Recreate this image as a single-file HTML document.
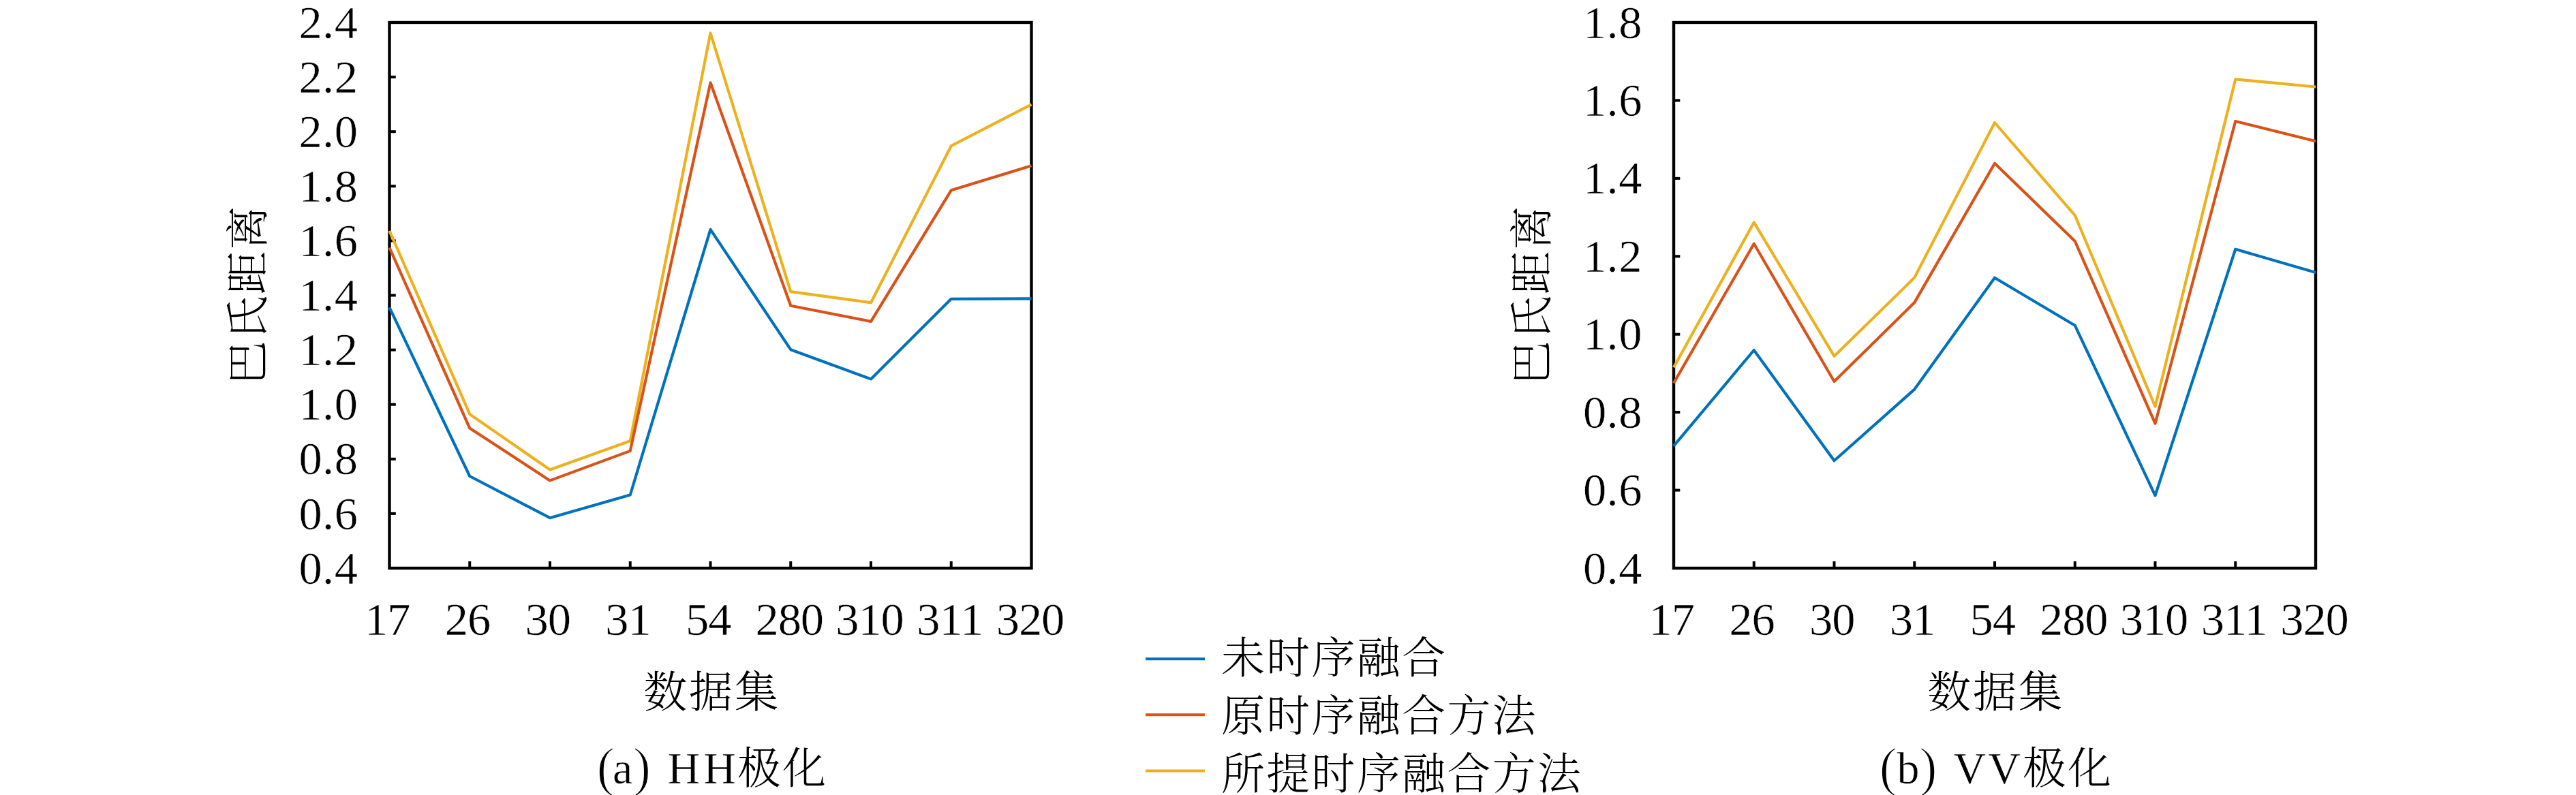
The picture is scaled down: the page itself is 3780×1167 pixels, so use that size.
<!DOCTYPE html>
<html lang="zh-CN">
<head>
<meta charset="utf-8">
<title>巴氏距离 - HH极化 / VV极化</title>
<style>
html,body{margin:0;padding:0;background:#fff;}
body{width:3780px;height:1167px;overflow:hidden;}
svg{display:block;}
text{font-family:"Liberation Serif", "Noto Serif CJK SC", serif;font-size:66px;fill:#000;stroke:#fff;stroke-width:0.5px;}
text.cjk,tspan.cjk{font-family:"Liberation Serif", "Noto Serif CJK SC", serif;font-size:64px;font-weight:300;letter-spacing:2px;stroke:none;}
text.ynum{font-size:68.5px;letter-spacing:0.4px;}
text.xnum{font-size:68.5px;letter-spacing:-1.1px;}
text.leg{letter-spacing:2.3px;}
text.xl{letter-spacing:2.8px;}
tspan.par{font-size:80px;stroke-width:1.7px;}
</style>
</head>
<body>
<svg width="3780" height="1167" viewBox="0 0 3780 1167">
<rect x="0" y="0" width="3780" height="1167" fill="#fff"/>
<g id="chart-a">
<rect x="571.5" y="33" width="942.0" height="801" fill="none" stroke="#000" stroke-width="4.4"/>
<line x1="689.25" y1="834" x2="689.25" y2="824" stroke="#000" stroke-width="4"/>
<line x1="807.00" y1="834" x2="807.00" y2="824" stroke="#000" stroke-width="4"/>
<line x1="924.75" y1="834" x2="924.75" y2="824" stroke="#000" stroke-width="4"/>
<line x1="1042.50" y1="834" x2="1042.50" y2="824" stroke="#000" stroke-width="4"/>
<line x1="1160.25" y1="834" x2="1160.25" y2="824" stroke="#000" stroke-width="4"/>
<line x1="1278.00" y1="834" x2="1278.00" y2="824" stroke="#000" stroke-width="4"/>
<line x1="1395.75" y1="834" x2="1395.75" y2="824" stroke="#000" stroke-width="4"/>
<line x1="571.5" y1="753.90" x2="580.8" y2="753.90" stroke="#000" stroke-width="4"/>
<line x1="571.5" y1="673.80" x2="580.8" y2="673.80" stroke="#000" stroke-width="4"/>
<line x1="571.5" y1="593.70" x2="580.8" y2="593.70" stroke="#000" stroke-width="4"/>
<line x1="571.5" y1="513.60" x2="580.8" y2="513.60" stroke="#000" stroke-width="4"/>
<line x1="571.5" y1="433.50" x2="580.8" y2="433.50" stroke="#000" stroke-width="4"/>
<line x1="571.5" y1="353.40" x2="580.8" y2="353.40" stroke="#000" stroke-width="4"/>
<line x1="571.5" y1="273.30" x2="580.8" y2="273.30" stroke="#000" stroke-width="4"/>
<line x1="571.5" y1="193.20" x2="580.8" y2="193.20" stroke="#000" stroke-width="4"/>
<line x1="571.5" y1="113.10" x2="580.8" y2="113.10" stroke="#000" stroke-width="4"/>
<polyline points="571.50,338.80 689.25,607.90 807.00,689.60 924.75,647.30 1042.50,48.50 1160.25,428.20 1278.00,444.30 1395.75,214.20 1513.50,153.30" fill="none" stroke="#EDB120" stroke-width="4.2" stroke-linejoin="round" stroke-linecap="butt"/>
<polyline points="571.50,363.50 689.25,628.60 807.00,705.40 924.75,661.90 1042.50,121.40 1160.25,448.80 1278.00,471.90 1395.75,279.30 1513.50,243.30" fill="none" stroke="#D95319" stroke-width="4.2" stroke-linejoin="round" stroke-linecap="butt"/>
<polyline points="571.50,451.30 689.25,699.00 807.00,760.20 924.75,726.50 1042.50,336.80 1160.25,513.20 1278.00,556.40 1395.75,438.80 1513.50,438.40" fill="none" stroke="#0072BD" stroke-width="4.2" stroke-linejoin="round" stroke-linecap="butt"/>
<text x="525.3" y="856.60" text-anchor="end" class="ynum">0.4</text>
<text x="525.3" y="776.50" text-anchor="end" class="ynum">0.6</text>
<text x="525.3" y="696.40" text-anchor="end" class="ynum">0.8</text>
<text x="525.3" y="616.30" text-anchor="end" class="ynum">1.0</text>
<text x="525.3" y="536.20" text-anchor="end" class="ynum">1.2</text>
<text x="525.3" y="456.10" text-anchor="end" class="ynum">1.4</text>
<text x="525.3" y="376.00" text-anchor="end" class="ynum">1.6</text>
<text x="525.3" y="295.90" text-anchor="end" class="ynum">1.8</text>
<text x="525.3" y="215.80" text-anchor="end" class="ynum">2.0</text>
<text x="525.3" y="135.70" text-anchor="end" class="ynum">2.2</text>
<text x="525.3" y="55.60" text-anchor="end" class="ynum">2.4</text>
<text x="568.20" y="932" text-anchor="middle" class="xnum">17</text>
<text x="685.95" y="932" text-anchor="middle" class="xnum">26</text>
<text x="803.70" y="932" text-anchor="middle" class="xnum">30</text>
<text x="921.45" y="932" text-anchor="middle" class="xnum">31</text>
<text x="1039.20" y="932" text-anchor="middle" class="xnum">54</text>
<text x="1158.25" y="932" text-anchor="middle" class="xnum">280</text>
<text x="1276.00" y="932" text-anchor="middle" class="xnum">310</text>
<text x="1393.75" y="932" text-anchor="middle" class="xnum">311</text>
<text x="1511.50" y="932" text-anchor="middle" class="xnum">320</text>
<text x="1044.5" y="1038" text-anchor="middle" class="cjk xl">数据集</text>
<text transform="translate(385.8,432.5) rotate(-90)" text-anchor="middle" class="cjk">巴氏距离</text>
<text y="1149.5"><tspan class="par" x="875.5" y="1153">(</tspan><tspan x="899" y="1149.5">a</tspan><tspan class="par" x="928.5" y="1153">) </tspan><tspan x="979.5" y="1149.5" style="letter-spacing:5px">HH</tspan><tspan class="cjk" x="1082" y="1150">极化</tspan></text>
</g>
<g id="legend">
<line x1="1681" y1="967.2" x2="1768" y2="967.2" stroke="#0072BD" stroke-width="4"/>
<text x="1792" y="987.7" class="cjk leg">未时序融合</text>
<line x1="1681" y1="1049.3" x2="1768" y2="1049.3" stroke="#D95319" stroke-width="4"/>
<text x="1792" y="1072.5" class="cjk leg">原时序融合方法</text>
<line x1="1681" y1="1131.4" x2="1768" y2="1131.4" stroke="#EDB120" stroke-width="4"/>
<text x="1792" y="1157.5" class="cjk leg">所提时序融合方法</text>
</g>
<g id="chart-b">
<rect x="2456" y="33" width="942" height="801" fill="none" stroke="#000" stroke-width="4.4"/>
<line x1="2573.75" y1="834" x2="2573.75" y2="824" stroke="#000" stroke-width="4"/>
<line x1="2691.50" y1="834" x2="2691.50" y2="824" stroke="#000" stroke-width="4"/>
<line x1="2809.25" y1="834" x2="2809.25" y2="824" stroke="#000" stroke-width="4"/>
<line x1="2927.00" y1="834" x2="2927.00" y2="824" stroke="#000" stroke-width="4"/>
<line x1="3044.75" y1="834" x2="3044.75" y2="824" stroke="#000" stroke-width="4"/>
<line x1="3162.50" y1="834" x2="3162.50" y2="824" stroke="#000" stroke-width="4"/>
<line x1="3280.25" y1="834" x2="3280.25" y2="824" stroke="#000" stroke-width="4"/>
<line x1="2456" y1="719.57" x2="2465.3" y2="719.57" stroke="#000" stroke-width="4"/>
<line x1="2456" y1="605.14" x2="2465.3" y2="605.14" stroke="#000" stroke-width="4"/>
<line x1="2456" y1="490.71" x2="2465.3" y2="490.71" stroke="#000" stroke-width="4"/>
<line x1="2456" y1="376.29" x2="2465.3" y2="376.29" stroke="#000" stroke-width="4"/>
<line x1="2456" y1="261.86" x2="2465.3" y2="261.86" stroke="#000" stroke-width="4"/>
<line x1="2456" y1="147.43" x2="2465.3" y2="147.43" stroke="#000" stroke-width="4"/>
<polyline points="2456.00,539.30 2573.75,326.40 2691.50,522.80 2809.25,407.60 2927.00,180.00 3044.75,316.20 3162.50,596.70 3280.25,116.40 3398.00,127.50" fill="none" stroke="#EDB120" stroke-width="4.2" stroke-linejoin="round" stroke-linecap="butt"/>
<polyline points="2456.00,562.20 2573.75,357.80 2691.50,560.00 2809.25,444.10 2927.00,239.80 3044.75,354.00 3162.50,621.70 3280.25,178.00 3398.00,207.20" fill="none" stroke="#D95319" stroke-width="4.2" stroke-linejoin="round" stroke-linecap="butt"/>
<polyline points="2456.00,654.70 2573.75,514.00 2691.50,676.20 2809.25,571.60 2927.00,407.80 3044.75,477.70 3162.50,727.30 3280.25,365.80 3398.00,400.10" fill="none" stroke="#0072BD" stroke-width="4.2" stroke-linejoin="round" stroke-linecap="butt"/>
<text x="2409.8" y="856.60" text-anchor="end" class="ynum">0.4</text>
<text x="2409.8" y="742.17" text-anchor="end" class="ynum">0.6</text>
<text x="2409.8" y="627.74" text-anchor="end" class="ynum">0.8</text>
<text x="2409.8" y="513.31" text-anchor="end" class="ynum">1.0</text>
<text x="2409.8" y="398.89" text-anchor="end" class="ynum">1.2</text>
<text x="2409.8" y="284.46" text-anchor="end" class="ynum">1.4</text>
<text x="2409.8" y="170.03" text-anchor="end" class="ynum">1.6</text>
<text x="2409.8" y="55.60" text-anchor="end" class="ynum">1.8</text>
<text x="2452.70" y="932" text-anchor="middle" class="xnum">17</text>
<text x="2570.45" y="932" text-anchor="middle" class="xnum">26</text>
<text x="2688.20" y="932" text-anchor="middle" class="xnum">30</text>
<text x="2805.95" y="932" text-anchor="middle" class="xnum">31</text>
<text x="2923.70" y="932" text-anchor="middle" class="xnum">54</text>
<text x="3042.75" y="932" text-anchor="middle" class="xnum">280</text>
<text x="3160.50" y="932" text-anchor="middle" class="xnum">310</text>
<text x="3278.25" y="932" text-anchor="middle" class="xnum">311</text>
<text x="3396.00" y="932" text-anchor="middle" class="xnum">320</text>
<text x="2928.5" y="1038" text-anchor="middle" class="cjk xl">数据集</text>
<text transform="translate(2270.3,432.5) rotate(-90)" text-anchor="middle" class="cjk">巴氏距离</text>
<text y="1149.5"><tspan class="par" x="2757.5" y="1153">(</tspan><tspan x="2783.5" y="1149.5">b</tspan><tspan class="par" x="2816" y="1153">) </tspan><tspan x="2866.5" y="1149.5" style="letter-spacing:3px">VV</tspan><tspan class="cjk" x="2968" y="1150">极化</tspan></text>
</g>
</svg>
</body>
</html>
